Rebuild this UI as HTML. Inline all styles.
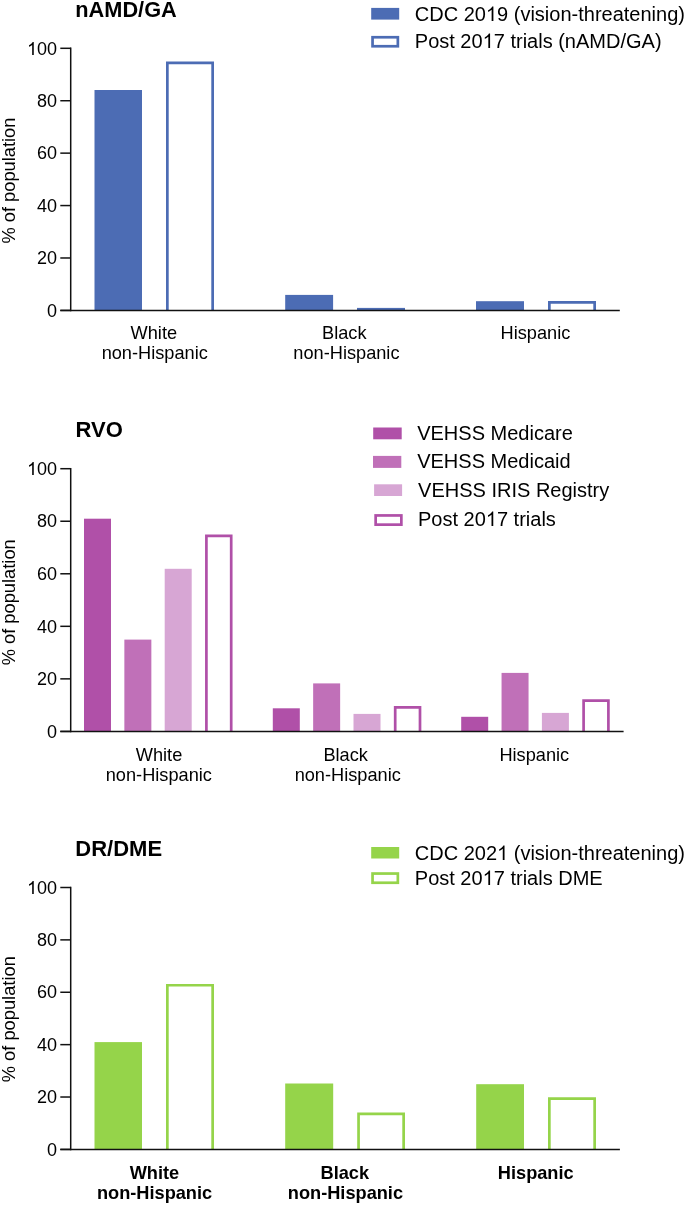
<!DOCTYPE html>
<html><head><meta charset="utf-8"><title>Chart</title>
<style>
html,body{margin:0;padding:0;background:#fff;}
body{width:685px;height:1205px;overflow:hidden;}
svg{display:block;font-family:"Liberation Sans", sans-serif;filter:blur(0.35px);}
text{fill:#000;}
.one{fill:transparent;}
</style></head>
<body>
<svg width="685" height="1205" viewBox="0 0 685 1205">
<rect width="685" height="1205" fill="#fff"/>
<text x="75.30" y="17.00" font-size="21.75" text-anchor="start" font-weight="bold">nAMD/GA</text>
<rect x="371.20" y="7.90" width="28.00" height="11.70" fill="#4c6cb4"/>
<rect x="372.55" y="37.25" width="25.30" height="9.00" fill="none" stroke="#4c6cb4" stroke-width="2.7"/>
<text x="414.80" y="21.00" font-size="20" text-anchor="start">CDC 20<tspan class="one">1</tspan>9 (vision-threatening)</text>
<path d="M763 0H583V1147Q518 1085 412.5 1023Q307 961 223 930V1104Q374 1175 487 1276Q600 1377 647 1472H763Z" transform="translate(485.94 21.00) scale(0.00977 -0.00977)"/>
<text x="414.80" y="48.00" font-size="20" text-anchor="start">Post 20<tspan class="one">1</tspan>7 trials (nAMD/GA)</text>
<path d="M763 0H583V1147Q518 1085 412.5 1023Q307 961 223 930V1104Q374 1175 487 1276Q600 1377 647 1472H763Z" transform="translate(482.63 48.00) scale(0.00977 -0.00977)"/>
<rect x="94.50" y="90.00" width="47.50" height="220.40" fill="#4c6cb4"/>
<path d="M167.35 310.40V62.95H212.65V310.40" fill="none" stroke="#4c6cb4" stroke-width="2.7"/>
<rect x="285.20" y="294.90" width="47.90" height="15.50" fill="#4c6cb4"/>
<rect x="357.00" y="307.90" width="48.00" height="2.50" fill="#4c6cb4"/>
<rect x="476.00" y="301.20" width="48.00" height="9.20" fill="#4c6cb4"/>
<path d="M549.35 310.40V302.35H594.65V310.40" fill="none" stroke="#4c6cb4" stroke-width="2.7"/>
<line x1="70.70" y1="47.55" x2="70.70" y2="311.15" stroke="#111" stroke-width="1.5"/>
<line x1="60.30" y1="310.40" x2="619.80" y2="310.40" stroke="#111" stroke-width="1.5"/>
<line x1="60.30" y1="48.30" x2="70.70" y2="48.30" stroke="#111" stroke-width="1.5"/>
<text x="57.10" y="55.00" font-size="18" text-anchor="end"><tspan class="one">1</tspan>00</text>
<path d="M763 0H583V1147Q518 1085 412.5 1023Q307 961 223 930V1104Q374 1175 487 1276Q600 1377 647 1472H763Z" transform="translate(27.05 55.00) scale(0.00879 -0.00879)"/>
<line x1="60.30" y1="100.72" x2="70.70" y2="100.72" stroke="#111" stroke-width="1.5"/>
<text x="57.10" y="107.00" font-size="18" text-anchor="end">80</text>
<line x1="60.30" y1="153.14" x2="70.70" y2="153.14" stroke="#111" stroke-width="1.5"/>
<text x="57.10" y="159.00" font-size="18" text-anchor="end">60</text>
<line x1="60.30" y1="205.56" x2="70.70" y2="205.56" stroke="#111" stroke-width="1.5"/>
<text x="57.10" y="212.00" font-size="18" text-anchor="end">40</text>
<line x1="60.30" y1="257.98" x2="70.70" y2="257.98" stroke="#111" stroke-width="1.5"/>
<text x="57.10" y="264.00" font-size="18" text-anchor="end">20</text>
<line x1="60.30" y1="310.40" x2="70.70" y2="310.40" stroke="#111" stroke-width="1.5"/>
<text x="57.10" y="317.00" font-size="18" text-anchor="end">0</text>
<text x="0" y="0" font-size="18.3" text-anchor="middle" transform="translate(15.4 180.60) rotate(-90)">% of population</text>
<text x="130.57" y="339.00" font-size="18.2" text-anchor="start">White</text>
<text x="101.65" y="359.00" font-size="18.2" text-anchor="start">non-Hispanic</text>
<text x="322.00" y="339.00" font-size="18.2" text-anchor="start">Black</text>
<text x="293.35" y="359.00" font-size="18.2" text-anchor="start">non-Hispanic</text>
<text x="500.60" y="339.00" font-size="18.2" text-anchor="start">Hispanic</text>
<text x="75.50" y="437.00" font-size="22" text-anchor="start" font-weight="bold">RVO</text>
<rect x="373.20" y="427.50" width="28.50" height="11.80" fill="#b050a8"/>
<rect x="373.00" y="455.90" width="28.30" height="12.00" fill="#c070b8"/>
<rect x="374.10" y="484.30" width="28.00" height="11.70" fill="#d7a6d4"/>
<rect x="375.65" y="515.45" width="25.70" height="9.20" fill="none" stroke="#b050a8" stroke-width="2.7"/>
<text x="417.18" y="440.00" font-size="20" text-anchor="start">VEHSS Medicare</text>
<text x="417.18" y="468.00" font-size="20" text-anchor="start">VEHSS Medicaid</text>
<text x="418.07" y="497.00" font-size="20" text-anchor="start">VEHSS IRIS Registry</text>
<text x="417.98" y="526.00" font-size="20" text-anchor="start">Post 20<tspan class="one">1</tspan>7 trials</text>
<path d="M763 0H583V1147Q518 1085 412.5 1023Q307 961 223 930V1104Q374 1175 487 1276Q600 1377 647 1472H763Z" transform="translate(485.81 526.00) scale(0.00977 -0.00977)"/>
<rect x="84.00" y="518.70" width="27.00" height="212.70" fill="#b050a8"/>
<rect x="124.35" y="639.60" width="27.00" height="91.80" fill="#c070b8"/>
<rect x="164.70" y="568.80" width="27.00" height="162.60" fill="#d7a6d4"/>
<path d="M206.40 731.40V535.95H231.20V731.40" fill="none" stroke="#b050a8" stroke-width="2.7"/>
<rect x="272.80" y="708.30" width="27.00" height="23.10" fill="#b050a8"/>
<rect x="313.15" y="683.40" width="27.00" height="48.00" fill="#c070b8"/>
<rect x="353.50" y="713.90" width="27.00" height="17.50" fill="#d7a6d4"/>
<path d="M395.20 731.40V707.35H420.00V731.40" fill="none" stroke="#b050a8" stroke-width="2.7"/>
<rect x="461.20" y="716.80" width="27.00" height="14.60" fill="#b050a8"/>
<rect x="501.55" y="672.90" width="27.00" height="58.50" fill="#c070b8"/>
<rect x="541.90" y="712.90" width="27.00" height="18.50" fill="#d7a6d4"/>
<path d="M583.60 731.40V700.65H608.40V731.40" fill="none" stroke="#b050a8" stroke-width="2.7"/>
<line x1="70.70" y1="467.95" x2="70.70" y2="732.15" stroke="#111" stroke-width="1.5"/>
<line x1="60.30" y1="731.40" x2="623.60" y2="731.40" stroke="#111" stroke-width="1.5"/>
<line x1="60.30" y1="468.70" x2="70.70" y2="468.70" stroke="#111" stroke-width="1.5"/>
<text x="57.10" y="475.00" font-size="18" text-anchor="end"><tspan class="one">1</tspan>00</text>
<path d="M763 0H583V1147Q518 1085 412.5 1023Q307 961 223 930V1104Q374 1175 487 1276Q600 1377 647 1472H763Z" transform="translate(27.05 475.00) scale(0.00879 -0.00879)"/>
<line x1="60.30" y1="521.24" x2="70.70" y2="521.24" stroke="#111" stroke-width="1.5"/>
<text x="57.10" y="527.00" font-size="18" text-anchor="end">80</text>
<line x1="60.30" y1="573.78" x2="70.70" y2="573.78" stroke="#111" stroke-width="1.5"/>
<text x="57.10" y="580.00" font-size="18" text-anchor="end">60</text>
<line x1="60.30" y1="626.32" x2="70.70" y2="626.32" stroke="#111" stroke-width="1.5"/>
<text x="57.10" y="633.00" font-size="18" text-anchor="end">40</text>
<line x1="60.30" y1="678.86" x2="70.70" y2="678.86" stroke="#111" stroke-width="1.5"/>
<text x="57.10" y="685.00" font-size="18" text-anchor="end">20</text>
<line x1="60.30" y1="731.40" x2="70.70" y2="731.40" stroke="#111" stroke-width="1.5"/>
<text x="57.10" y="738.00" font-size="18" text-anchor="end">0</text>
<text x="0" y="0" font-size="18.3" text-anchor="middle" transform="translate(15.4 602.30) rotate(-90)">% of population</text>
<text x="135.78" y="761.00" font-size="18.2" text-anchor="start">White</text>
<text x="105.75" y="781.00" font-size="18.2" text-anchor="start">non-Hispanic</text>
<text x="323.40" y="761.00" font-size="18.2" text-anchor="start">Black</text>
<text x="294.65" y="781.00" font-size="18.2" text-anchor="start">non-Hispanic</text>
<text x="499.40" y="761.00" font-size="18.2" text-anchor="start">Hispanic</text>
<text x="75.30" y="856.00" font-size="22" text-anchor="start" font-weight="bold">DR/DME</text>
<rect x="371.20" y="847.00" width="28.00" height="11.50" fill="#95d44a"/>
<rect x="372.55" y="873.55" width="25.30" height="9.20" fill="none" stroke="#95d44a" stroke-width="2.7"/>
<text x="414.80" y="860.00" font-size="20" text-anchor="start">CDC 202<tspan class="one">1</tspan> (vision-threatening)</text>
<path d="M763 0H583V1147Q518 1085 412.5 1023Q307 961 223 930V1104Q374 1175 487 1276Q600 1377 647 1472H763Z" transform="translate(497.07 860.00) scale(0.00977 -0.00977)"/>
<text x="414.80" y="885.00" font-size="20" text-anchor="start">Post 20<tspan class="one">1</tspan>7 trials DME</text>
<path d="M763 0H583V1147Q518 1085 412.5 1023Q307 961 223 930V1104Q374 1175 487 1276Q600 1377 647 1472H763Z" transform="translate(482.63 885.00) scale(0.00977 -0.00977)"/>
<rect x="94.50" y="1042.10" width="47.50" height="107.30" fill="#95d44a"/>
<path d="M167.35 1149.40V985.25H212.65V1149.40" fill="none" stroke="#95d44a" stroke-width="2.7"/>
<rect x="285.20" y="1083.50" width="48.00" height="65.90" fill="#95d44a"/>
<path d="M358.55 1149.40V1113.85H403.65V1149.40" fill="none" stroke="#95d44a" stroke-width="2.7"/>
<rect x="476.20" y="1084.20" width="47.80" height="65.20" fill="#95d44a"/>
<path d="M549.35 1149.40V1098.65H594.65V1149.40" fill="none" stroke="#95d44a" stroke-width="2.7"/>
<line x1="70.70" y1="886.75" x2="70.70" y2="1150.15" stroke="#111" stroke-width="1.5"/>
<line x1="60.30" y1="1149.40" x2="619.90" y2="1149.40" stroke="#111" stroke-width="1.5"/>
<line x1="60.30" y1="887.50" x2="70.70" y2="887.50" stroke="#111" stroke-width="1.5"/>
<text x="57.10" y="894.00" font-size="18" text-anchor="end"><tspan class="one">1</tspan>00</text>
<path d="M763 0H583V1147Q518 1085 412.5 1023Q307 961 223 930V1104Q374 1175 487 1276Q600 1377 647 1472H763Z" transform="translate(27.05 894.00) scale(0.00879 -0.00879)"/>
<line x1="60.30" y1="939.88" x2="70.70" y2="939.88" stroke="#111" stroke-width="1.5"/>
<text x="57.10" y="946.00" font-size="18" text-anchor="end">80</text>
<line x1="60.30" y1="992.26" x2="70.70" y2="992.26" stroke="#111" stroke-width="1.5"/>
<text x="57.10" y="998.00" font-size="18" text-anchor="end">60</text>
<line x1="60.30" y1="1044.64" x2="70.70" y2="1044.64" stroke="#111" stroke-width="1.5"/>
<text x="57.10" y="1051.00" font-size="18" text-anchor="end">40</text>
<line x1="60.30" y1="1097.02" x2="70.70" y2="1097.02" stroke="#111" stroke-width="1.5"/>
<text x="57.10" y="1103.00" font-size="18" text-anchor="end">20</text>
<line x1="60.30" y1="1149.40" x2="70.70" y2="1149.40" stroke="#111" stroke-width="1.5"/>
<text x="57.10" y="1156.00" font-size="18" text-anchor="end">0</text>
<text x="0" y="0" font-size="18.3" text-anchor="middle" transform="translate(15.4 1019.20) rotate(-90)">% of population</text>
<text x="129.70" y="1179.00" font-size="18.2" text-anchor="start" font-weight="bold">White</text>
<text x="96.95" y="1199.00" font-size="18.2" text-anchor="start" font-weight="bold">non-Hispanic</text>
<text x="320.55" y="1179.00" font-size="18.2" text-anchor="start" font-weight="bold">Black</text>
<text x="287.85" y="1199.00" font-size="18.2" text-anchor="start" font-weight="bold">non-Hispanic</text>
<text x="497.85" y="1179.00" font-size="18.2" text-anchor="start" font-weight="bold">Hispanic</text>
</svg>
</body></html>
